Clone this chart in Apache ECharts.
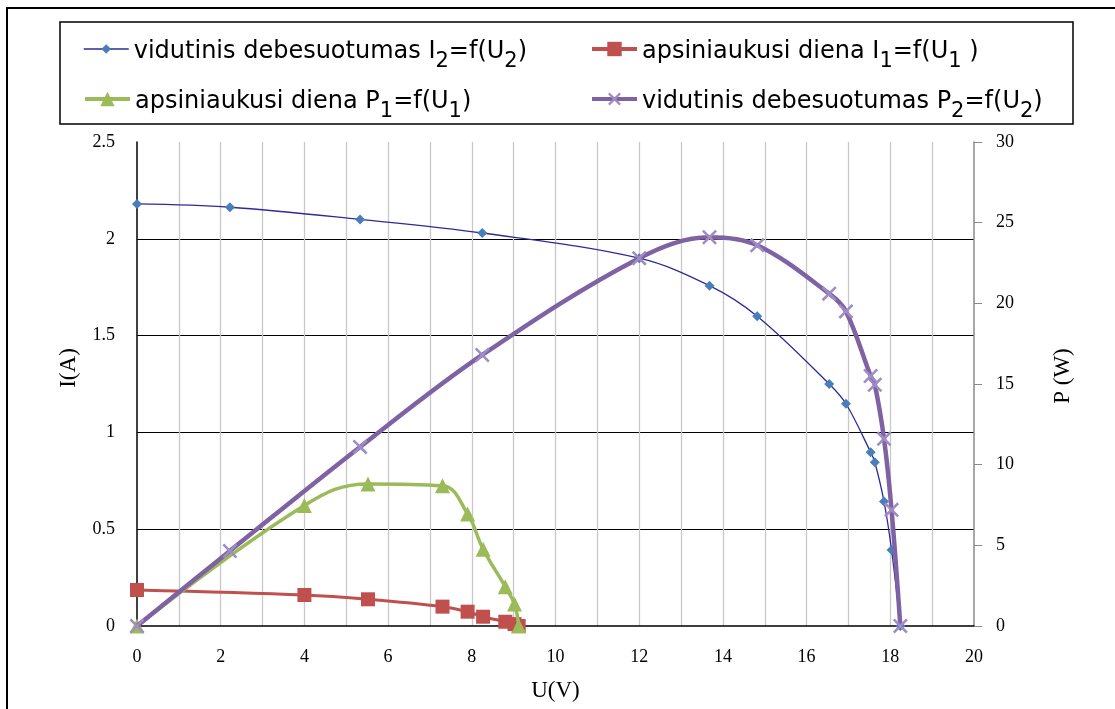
<!DOCTYPE html>
<html>
<head>
<meta charset="utf-8">
<script src="https://cdn.jsdelivr.net/npm/echarts@6/dist/echarts.min.js"></script>
<style>
  html, body { margin: 0; padding: 0; background: #fff; }
  #chart { width: 1115px; height: 709px; }
</style>
</head>
<body>
<div id="chart"></div>
<script>
// Partly cloudy day: voltage U2 (V), current I2 (A), power P2 (W)
const u2 = [0, 2.22, 5.33, 8.25, 12.0, 13.68, 14.82, 16.54, 16.94, 17.53, 17.63, 17.85, 18.03, 18.24];
const i2 = [2.18, 2.163, 2.1, 2.03, 1.9, 1.758, 1.6, 1.25, 1.148, 0.898, 0.846, 0.643, 0.393, 0];
const p2 = [0, 4.65, 11.1, 16.8, 22.8, 24.1, 23.6, 20.6, 19.5, 15.5, 14.95, 11.6, 7.2, 0];

// Overcast day: voltage U1 (V), current I1 (A), power P1 (W)
const u1 = [0, 4.0, 5.52, 7.3, 7.9, 8.27, 8.8, 9.02, 9.12];
const i1 = [0.186, 0.16, 0.138, 0.1, 0.074, 0.048, 0.022, 0.01, 0];
const p1 = [0, 0.623, 0.734, 0.724, 0.579, 0.397, 0.203, 0.113, 0];

// Axis ticks
const uTicks = { min: 0, max: 20, step: 1, labelStep: 2 };
const iTicks = { min: 0, max: 2.5, step: 0.5 };
const pTicks = { min: 0, max: 30, step: 5 };

// Series names (rich-text subscripts are applied in the legend)
const names = {
  i2: 'vidutinis debesuotumas I{sub|2}=f(U{sub|2})',
  i1: 'apsiniaukusi diena I{sub|1}=f(U{sub|1} )',
  p1: 'apsiniaukusi diena P{sub|1}=f(U{sub|1})',
  p2: 'vidutinis debesuotumas P{sub|2}=f(U{sub|2})'
};

const pairs = (xs, ys) => xs.map((x, k) => [x, ys[k]]);

const serif = 'Liberation Serif';
const sans = 'DejaVu Sans';

// Legend text block: 38px tall; main text centred, subscripts 8px lower
const LEGEND_BLOCK = 38;
const legendText = {
  fontFamily: sans,
  fontSize: 24,
  color: '#000',
  rich: {
    n: { fontFamily: sans, fontSize: 24, color: '#000', lineHeight: 28, verticalAlign: 'top', padding: [5, 0, 5, 0] },
    sub: { fontFamily: sans, fontSize: 21, color: '#000', lineHeight: 22, verticalAlign: 'top', padding: [16, 0, 0, 0] }
  }
};

function legendItem(name, left, centerY, itemHeight, lineWidth) {
  return {
    data: [name],
    left: left,
    top: centerY - LEGEND_BLOCK / 2,
    orient: 'horizontal',
    itemWidth: 45,
    itemHeight: itemHeight,
    padding: 0,
    selectedMode: false,
    textStyle: legendText,
    lineStyle: { width: lineWidth },
    formatter: (s) => s.split(/(\{sub\|[^}]*\})/).map(part =>
      part.startsWith('{sub|') ? part : (part ? '{n|' + part + '}' : '')).join('')
  };
}

const crossPath = 'path://M0,1.2 L1.2,0 L10,8.8 L8.8,10 Z M8.8,0 L10,1.2 L1.2,10 L0,8.8 Z';

const chart = echarts.init(document.getElementById('chart'), null, { renderer: 'canvas' });

chart.setOption({
  backgroundColor: '#fff',
  animation: false,
  graphic: [
    { type: 'rect', shape: { x: 7, y: 8, width: 1300, height: 900 },
      style: { fill: 'none', stroke: '#000', lineWidth: 2 }, silent: true },
    { type: 'rect', shape: { x: 60, y: 22, width: 1013, height: 102 },
      style: { fill: 'none', stroke: '#000', lineWidth: 1.5 }, silent: true }
  ],
  legend: [
    legendItem(names.i2, 83, 54, 12, 1.5),
    legendItem(names.i1, 590, 54, 18, 4),
    legendItem(names.p1, 83, 104, 18, 4),
    legendItem(names.p2, 590, 104, 16, 4)
  ],
  grid: { left: 137, right: 141, top: 142, bottom: 83, containLabel: false },
  xAxis: {
    type: 'value',
    min: uTicks.min, max: uTicks.max, interval: uTicks.step,
    name: 'U(V)', nameLocation: 'middle', nameGap: 53,
    nameTextStyle: { fontFamily: serif, fontSize: 23, color: '#000' },
    axisLine: { show: true, lineStyle: { color: '#000', width: 1.5 } },
    axisTick: { show: false },
    axisLabel: {
      margin: 22,
      fontFamily: serif, fontSize: 18, color: '#000',
      formatter: (v) => (Math.round(v) % uTicks.labelStep === 0 ? String(v) : '')
    },
    splitLine: { show: true, showMinLine: false, showMaxLine: false, lineStyle: { color: '#c8c8c8', width: 1.3 } }
  },
  yAxis: [
    {
      type: 'value',
      min: iTicks.min, max: iTicks.max, interval: iTicks.step,
      name: 'I(A)', nameLocation: 'middle', nameGap: 57,
      nameTextStyle: { fontFamily: serif, fontSize: 23, color: '#000', padding: [0, 0, 0, 32] },
      axisLine: { show: true, lineStyle: { color: '#000', width: 1.5 } },
      axisTick: { show: false },
      axisLabel: { margin: 22, fontFamily: serif, fontSize: 18, color: '#000' },
      splitLine: { show: true, showMinLine: false, showMaxLine: false, lineStyle: { color: '#000', width: 1.2 } }
    },
    {
      type: 'value',
      position: 'right',
      min: pTicks.min, max: pTicks.max, interval: pTicks.step,
      name: 'P (W)', nameLocation: 'middle', nameGap: 77,
      nameTextStyle: { fontFamily: serif, fontSize: 23, color: '#000', padding: [0, 0, 0, 16] },
      axisLine: { show: true, lineStyle: { color: '#8a8a8a', width: 1.5 } },
      axisTick: { show: true, inside: false, length: 8, lineStyle: { color: '#8a8a8a', width: 1 } },
      axisLabel: { margin: 22, fontFamily: serif, fontSize: 18, color: '#000' },
      splitLine: { show: false }
    }
  ],
  series: [
    {
      name: names.i2, type: 'line', yAxisIndex: 0,
      data: pairs(u2, i2), smooth: 0.35,
      symbol: 'diamond', symbolSize: 10,
      lineStyle: { color: '#2b2b9a', width: 1.3 },
      itemStyle: { color: '#4a7ebb' },
      z: 2
    },
    {
      name: names.i1, type: 'line', yAxisIndex: 0,
      data: pairs(u1, i1), smooth: 0.35,
      symbol: 'rect', symbolSize: 14,
      lineStyle: { color: '#c0504d', width: 3 },
      itemStyle: { color: '#c0504d' },
      z: 3
    },
    {
      name: names.p1, type: 'line', yAxisIndex: 0,
      data: pairs(u1, p1), smooth: 0.4,
      symbol: 'triangle', symbolSize: 15,
      lineStyle: { color: '#9bbb59', width: 3.5 },
      itemStyle: { color: '#9bbb59' },
      z: 4
    },
    {
      name: names.p2, type: 'line', yAxisIndex: 1,
      data: pairs(u2, p2), smooth: 0.35,
      symbol: crossPath, symbolSize: 15,
      lineStyle: { color: '#7f62a3', width: 4.5 },
      itemStyle: { color: '#a08cc4' },
      z: 5
    }
  ]
});
</script>
</body>
</html>
